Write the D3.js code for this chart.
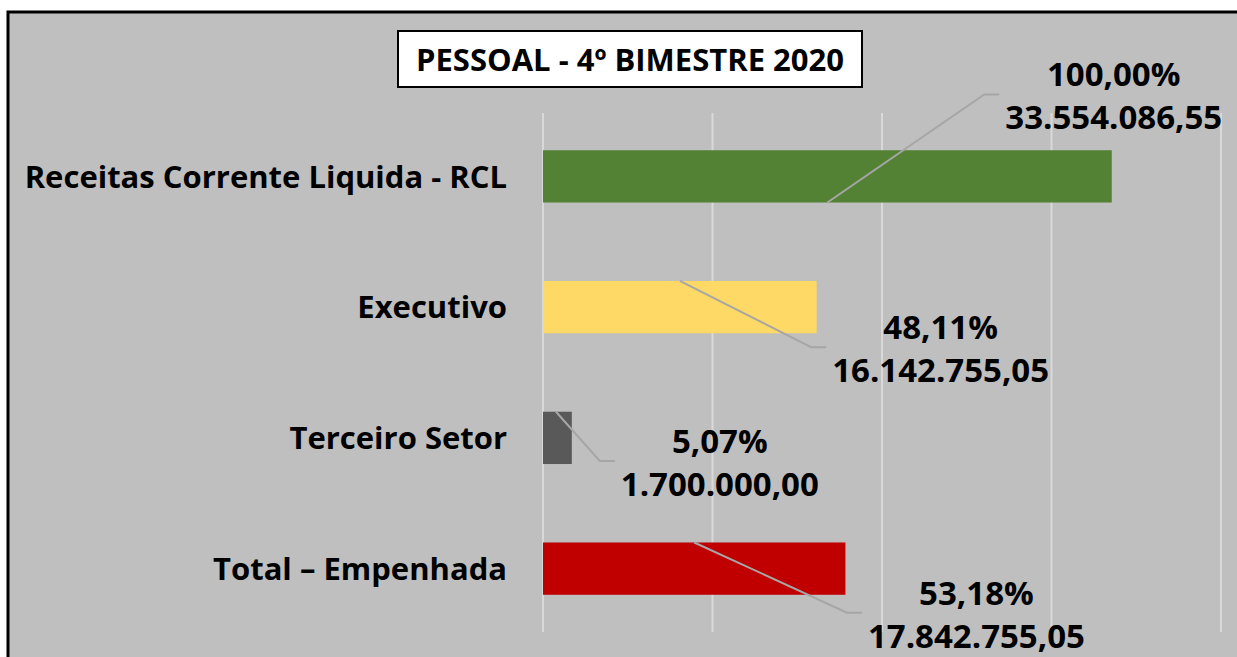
<!DOCTYPE html>
<html>
<head>
<meta charset="utf-8">
<script src="https://d3js.org/d3.v7.min.js"></script>
<style>
  body { margin: 0; background: #fff; }
  text { font-family: "Open Sans", "Noto Sans", sans-serif; font-weight: 700; fill: #000; }
</style>
</head>
<body>
<svg id="chart" width="1237" height="657"></svg>
<script>
// chart data
const categories = ["Receitas Corrente Liquida - RCL", "Executivo", "Terceiro Setor", "Total – Empenhada"];
const values = [33554086.55, 16142755.05, 1700000.00, 17842755.05];
const percents = ["100,00%", "48,11%", "5,07%", "53,18%"];
const colors = ["#548235", "#ffd966", "#595959", "#c00000"];
const tickValues = [0, 10000000, 20000000, 30000000, 40000000];
const title = "PESSOAL - 4º BIMESTRE 2020";

// where the data labels were dragged to: [dx from bar end, dy of first baseline from bar middle]
const labelOffsets = [[2, -90], [124, 32], [148, 15], [131, 36]];
// leader line start on the bar (fraction of bar length)
const leaderFrom = [0.5, 0.5, 0.45, 0.5];

const W = 1237, H = 657;
const svg = d3.select("#chart");

// chart area background + frame
svg.append("rect").attr("x", 8).attr("y", 12).attr("width", W).attr("height", H)
  .attr("fill", "#bfbfbf").attr("stroke", "#000").attr("stroke-width", 3);

const x = d3.scaleLinear().domain([0, 40000000]).range([543, 1221]);
const y = d3.scaleBand().domain(categories).range([111, 634]).paddingInner(0.6).paddingOuter(0.3);

// gridlines
svg.append("g").selectAll("line").data(tickValues).join("line")
  .attr("x1", d => x(d)).attr("x2", d => x(d))
  .attr("y1", 113).attr("y2", 632)
  .attr("stroke", "#d9d9d9").attr("stroke-width", 2);

// bars
svg.append("g").selectAll("rect").data(values).join("rect")
  .attr("x", x(0))
  .attr("y", (d, i) => y(categories[i]))
  .attr("width", d => x(d) - x(0))
  .attr("height", y.bandwidth())
  .attr("fill", (d, i) => colors[i]);

// category labels
svg.append("g").selectAll("text").data(categories).join("text")
  .attr("x", 507)
  .attr("y", d => y(d) + y.bandwidth() / 2)
  .attr("dy", "0.36em")
  .attr("text-anchor", "end")
  .style("font-size", "31px")
  .text(d => d);

// data labels with leader lines
const fmt = d3.formatLocale({ decimal: ",", thousands: ".", grouping: [3], currency: ["", ""] }).format(",.2f");
const leaders = svg.append("g");

values.forEach((v, i) => {
  const cx = x(v) + labelOffsets[i][0];
  const mid = y(categories[i]) + y.bandwidth() / 2;
  const b1 = mid + labelOffsets[i][1];
  const t = svg.append("text").attr("text-anchor", "middle").style("font-size", "33px");
  t.append("tspan").attr("x", cx).attr("y", b1).text(percents[i]);
  const valSpan = t.append("tspan").attr("x", cx).attr("y", b1 + 43).text(fmt(v));

  // leader line: from the bar to just left of the label block
  const half = valSpan.node().getComputedTextLength() / 2;
  const endX = cx - half - 6;
  const ey = b1 + 8;
  const sx = x(0) + (x(v) - x(0)) * leaderFrom[i];
  const sy = labelOffsets[i][1] < 0 ? y(categories[i]) + y.bandwidth() : y(categories[i]);
  leaders.append("polyline")
    .attr("points", [[sx, sy], [endX - 15, ey], [endX, ey]].map(p => p.join(",")).join(" "))
    .attr("fill", "none").attr("stroke", "#a6a6a6").attr("stroke-width", 2);
});

// title box
const tg = svg.append("g");
tg.append("rect").attr("x", 398).attr("y", 31).attr("width", 464).attr("height", 56)
  .attr("fill", "#fff").attr("stroke", "#000").attr("stroke-width", 2);
tg.append("text").attr("x", 630).attr("y", 71).attr("text-anchor", "middle")
  .style("font-size", "31px").text(title);
</script>
</body>
</html>
